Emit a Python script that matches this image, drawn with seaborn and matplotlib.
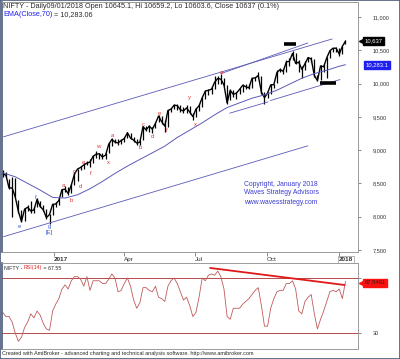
import pandas as pd
import numpy as np
import seaborn as sns
import matplotlib.pyplot as plt
import matplotlib.dates as mdates
import matplotlib.transforms as mtransforms

start, end = '2016-10-28', '2018-01-09'

close = [8638, 8626, 8433, 8432, 8297, 8079, 7929, 8114, 8142, 8086,
         8102, 8261, 8153, 8104, 7986, 8033, 8186, 8191, 8244, 8407,
         8413, 8349, 8476, 8641, 8716, 8741, 8778, 8805, 8821, 8907,
         8940, 8945, 8897, 8927, 9087, 9160, 9121, 9108, 9144, 9174,
         9261, 9182, 9150, 9106, 9119, 9352, 9304, 9360, 9315, 9401,
         9512, 9428, 9360, 9595, 9617, 9675, 9668, 9606, 9588, 9634,
         9574, 9504, 9615, 9665, 9786, 9886, 9899, 9915, 10020, 10077,
         10066, 9979, 9710, 9897, 9837, 9857, 9912, 9974, 9952, 9935,
         10079, 10085, 10121, 9872, 9789, 9859, 9980, 9984, 10167, 10210,
         10184, 10323, 10335, 10452, 10303, 10322, 10214, 10298, 10390, 10370,
         10121, 10044, 10265, 10252, 10389, 10493, 10531, 10531, 10443, 10559,
         10637]
high = [8700, 8670, 8560, 8600, 8580, 8250, 8100, 8130, 8170, 8230,
        8150, 8275, 8230, 8180, 8110, 8040, 8195, 8220, 8280, 8420,
        8460, 8440, 8490, 8670, 8720, 8760, 8800, 8830, 8860, 8920,
        8980, 8960, 8950, 8950, 9120, 9180, 9160, 9160, 9160, 9190,
        9275, 9260, 9200, 9170, 9150, 9370, 9370, 9380, 9340, 9430,
        9530, 9520, 9450, 9600, 9640, 9690, 9700, 9680, 9650, 9680,
        9660, 9560, 9640, 9700, 9800, 9900, 9920, 9950, 10110, 10110,
        10140, 10080, 9980, 9920, 9910, 9880, 9940, 10000, 9990, 10000,
        10090, 10100, 10180, 10120, 9880, 9880, 9990, 10000, 10200, 10240,
        10220, 10350, 10380, 10490, 10460, 10360, 10260, 10340, 10400, 10400,
        10370, 10130, 10280, 10300, 10400, 10500, 10540, 10550, 10540, 10570,
        10660]
low = [8590, 8600, 8420, 8002, 8290, 8050, 7916, 7940, 8090, 8060,
       8050, 8140, 8140, 8090, 7970, 7893, 8030, 8140, 8180, 8300,
       8370, 8330, 8350, 8480, 8540, 8700, 8720, 8770, 8740, 8800,
       8880, 8860, 8860, 8860, 8950, 9060, 9100, 9070, 9090, 9120,
       9180, 9170, 9120, 9080, 9080, 9150, 9280, 9270, 9260, 9330,
       9420, 9390, 9270, 9340, 9580, 9620, 9610, 9580, 9560, 9560,
       9550, 9450, 9500, 9590, 9650, 9770, 9830, 9840, 9920, 9990,
       10000, 9960, 9690, 9750, 9800, 9770, 9850, 9880, 9920, 9920,
       9940, 10040, 10090, 9850, 9690, 9780, 9840, 9930, 10010, 10170,
       10140, 10180, 10270, 10360, 10290, 10180, 10090, 10200, 10320, 10330,
       10100, 10033, 10060, 10180, 10080, 10380, 10480, 10480, 10420, 10450,
       10590]
# EMA(Close,70), one value every fourth sample plus the last bar
ema70 = [8660, 8600, 8500, 8400, 8290, 8280, 8330, 8420, 8530, 8650,
         8760, 8860, 8960, 9060, 9190, 9300, 9410, 9530, 9640, 9710,
         9780, 9830, 9900, 9990, 10080, 10150, 10200, 10260, 10283]
rsi14 = [45, 42, 42, 38, 30, 24, 27, 34, 38, 44,
         41, 46, 43, 37, 33, 32, 46, 51, 55, 62,
         65, 62, 68, 71, 71, 69, 64, 71, 61, 68,
         68, 68, 66, 66, 69, 73, 70, 60, 61, 66,
         70, 64, 54, 48, 52, 63, 63, 61, 60, 64,
         56, 55, 53, 64, 68, 70, 66, 60, 54, 56,
         50, 42, 45, 56, 70, 68, 72, 73, 72, 75,
         71, 62, 42, 40, 48, 48, 48, 51, 53, 55,
         58, 61, 63, 50, 35, 35, 48, 55, 60, 61,
         61, 66, 66, 68, 62, 46, 44, 53, 56, 58,
         44, 33, 40, 46, 53, 60, 61, 60, 62, 55,
         67.55]

# trend lines drawn on the chart: (date, value) pairs
channel_top = [('2016-10-29', 9200), ('2017-12-23', 10670)]
channel_bottom = [('2016-10-29', 7700), ('2017-11-22', 9065)]
top_fan = [('2017-08-03', 10150), ('2017-11-22', 10610)]
support_a = [('2017-08-14', 9555), ('2017-10-02', 9725)]
support_b = [('2017-10-05', 9745), ('2018-01-02', 10060)]
rsi_trend = [('2017-07-20', 77.3), ('2018-01-08', 64.9)]
markers = [[('2017-10-22', 10595), ('2017-11-07', 10595)],
           [('2017-12-08', 10010), ('2017-12-28', 10010)]]

blue_labels = [('2016-11-18', 7850, 'e'), ('2016-12-09', 8285, 'f'),
               ('2016-12-26', 7850, 'g'), ('2016-12-26', 7760, '[E]')]
red_labels = [('2017-01-14', 8465, 'a'), ('2017-01-23', 8240, 'b'),
              ('2017-01-27', 8675, 'c'), ('2017-02-04', 8450, 'd'),
              ('2017-02-08', 8810, 'e'), ('2017-02-18', 8645, 'f'),
              ('2017-02-27', 9050, 'w'), ('2017-03-12', 8810, 'x'),
              ('2017-03-17', 9215, 'a'), ('2017-04-22', 9035, 'b'),
              ('2017-04-25', 9380, 'c'), ('2017-05-07', 9200, 'd'),
              ('2017-05-16', 9545, 'e'), ('2017-05-26', 9290, 'f'),
              ('2017-06-23', 9785, 'y'), ('2017-07-01', 9380, 'x'),
              ('2017-08-03', 10165, 'a')]

dates = pd.date_range(start, end, periods=len(close))
df = pd.DataFrame({'date': dates, 'close': close, 'high': high, 'low': low, 'rsi': rsi14})
ema_df = pd.DataFrame({'date': list(dates[::4]) + [dates[-1]], 'ema': ema70})

sns.set_theme(style='white')
plt.rcParams['font.family'] = ['Liberation Sans', 'DejaVu Sans']

fig = plt.figure(figsize=(4, 3.59), dpi=100)
H = 359.0
ax = fig.add_axes([0.005, 1 - 252 / H, 0.89, 250 / H])
ax2 = fig.add_axes([0.005, 1 - 349 / H, 0.89, 86 / H])

line_blue = '#5a5ab8'

# price bars
ax.vlines(df['date'], df['low'], df['high'], color='black', lw=0.9)
sns.lineplot(data=df, x='date', y='close', ax=ax, color='black', lw=1.0)
sns.lineplot(data=ema_df, x='date', y='ema', ax=ax, color=line_blue, lw=0.7)

for seg in [channel_top, channel_bottom, top_fan, support_a, support_b]:
    xs = pd.to_datetime([p[0] for p in seg])
    ax.plot(xs, [p[1] for p in seg], color=line_blue, lw=0.6)
for seg in markers:
    xs = pd.to_datetime([p[0] for p in seg])
    ax.plot(xs, [p[1] for p in seg], color='black', lw=2.6, solid_capstyle='butt')

for d, v, s in blue_labels:
    ax.text(pd.Timestamp(d), v, s, color='#3a5ad0', fontsize=4.3, ha='center', va='center')
for d, v, s in red_labels:
    ax.text(pd.Timestamp(d), v, s, color='#e03535', fontsize=4.3, ha='center', va='center')

ax.set_xlim(pd.Timestamp('2016-10-27'), pd.Timestamp('2018-01-25'))
ax.set_ylim(7470, 11225)
ax.set_xlabel('')
ax.set_ylabel('')
ax.yaxis.tick_right()
ax.set_yticks(range(7500, 11001, 500))
ax.set_yticklabels([f'{v:,}' for v in range(7500, 11001, 500)])
ax.tick_params(axis='y', which='both', right=True, length=2.5, width=0.6, color='#777777',
               labelsize=4.1, labelcolor='#333333', pad=8)
month_ticks = pd.to_datetime(['2017-01-01', '2017-04-01', '2017-07-01', '2017-10-01', '2018-01-01'])
ax.set_xticks(month_ticks)
ax.set_xticklabels(['2017', 'Apr', 'Jul', 'Oct', '2018'])
for lbl in ax.get_xticklabels():
    lbl.set_horizontalalignment('left')
    if lbl.get_text() in ('2017', '2018'):
        lbl.set_fontweight('bold')
    if lbl.get_text() == '2018':
        lbl.set_bbox(dict(boxstyle='square,pad=0.12', fc='white', ec='#9a9a9a', lw=0.5))
ax.tick_params(axis='x', bottom=True, length=3, width=0.6, color='#777777',
               labelsize=4.6, labelcolor='#333333', pad=0.5)
for sp in ax.spines.values():
    sp.set_color('#9a9a9a')
    sp.set_linewidth(0.7)
ax.spines['left'].set_color('#4a5a7a')
ax.spines['left'].set_linewidth(1.2)

# right-side value boxes
tr = mtransforms.blended_transform_factory(ax.transAxes, ax.transData)
ax.text(1.018, 10637, '10,637', transform=tr, color='white', fontsize=4.2, va='center',
        ha='left', bbox=dict(boxstyle='square,pad=0.25', fc='black', ec='black'))
ax.plot([1.01], [10637], marker='<', color='black', ms=4, transform=tr, clip_on=False)
ax.text(1.02, 10283, '10,283.1', transform=tr, color='white', fontsize=4.2, va='center',
        ha='left', bbox=dict(boxstyle='square,pad=0.25', fc='#2020ee', ec='#2020ee'))

# RSI pane
ax2.axhline(70, color='#b84848', lw=0.7)
ax2.axhline(30, color='#b84848', lw=0.7)
sns.lineplot(data=df, x='date', y='rsi', ax=ax2, color='#c05a5a', lw=0.6)
xs = pd.to_datetime([p[0] for p in rsi_trend])
ax2.plot(xs, [p[1] for p in rsi_trend], color='#e01818', lw=1.3)
ax2.set_xlim(ax.get_xlim())
ax2.set_ylim(18.4, 80.9)
ax2.set_xlabel('')
ax2.set_ylabel('')
ax2.set_xticks([])
ax2.yaxis.tick_right()
ax2.set_yticks([30, 70])
ax2.set_yticklabels(['30', ''])
ax2.tick_params(axis='y', right=True, length=2.5, width=0.6, color='#777777',
                labelsize=4.1, labelcolor='#333333', pad=8)
for sp in ax2.spines.values():
    sp.set_color('#9a9a9a')
    sp.set_linewidth(0.7)
ax2.spines['left'].set_color('#4a5a7a')
ax2.spines['left'].set_linewidth(1.2)
tr2 = mtransforms.blended_transform_factory(ax2.transAxes, ax2.transData)
ax2.text(1.018, 66.5, '67.5491', transform=tr2, color='#202020', fontsize=4.2, va='center',
         ha='left', bbox=dict(boxstyle='square,pad=0.25', fc='#ff1010', ec='#ff1010'))
ax2.plot([1.01], [66.5], marker='<', color='#ff1010', ms=4, transform=tr2, clip_on=False)

# header texts
fig.text(3 / 400, 1 - 6 / H, 'NIFTY - Daily09/01/2018 Open 10645.1, Hi 10659.2, Lo 10603.6, Close 10637 (0.1%)',
         fontsize=5.2, color='#2a2a2a', va='center')
t2 = fig.text(3 / 400, 1 - 15 / H, 'EMA(Close,70)', fontsize=5.2, color='#2020ee', va='center')
ax.annotate(' = 10,283.06', xy=(1, 0), xycoords=t2, va='bottom', ha='left',
            fontsize=5.2, color='#2a2a2a', annotation_clip=False)
r1 = fig.text(4 / 400, 1 - 268 / H, 'NIFTY - ', fontsize=3.8, color='#2a2a2a', va='center')
r2 = ax2.annotate('RSI(14)', xy=(1, 0), xycoords=r1, va='bottom', ha='left',
                  fontsize=3.8, color='#e02020', annotation_clip=False)
ax2.annotate(' = 67.55', xy=(1, 0), xycoords=r2, va='bottom', ha='left',
             fontsize=3.8, color='#2a2a2a', annotation_clip=False)

# copyright and footer
for i, s in enumerate(['Copyright, January 2018', 'Waves Strategy Advisors', 'www.wavesstrategy.com']):
    fig.text(244 / 400, 1 - (184 + 9 * i) / H, s, fontsize=4.9, color='#3c3cd0', va='center')
fig.text(2 / 400, 1 - 354 / H,
         'Created with AmiBroker - advanced charting and technical analysis software. http://www.amibroker.com',
         fontsize=4.0, color='#2a2a2a', va='center')

fig.patches.append(plt.Rectangle((0, 0), 1, 1, transform=fig.transFigure, fill=False,
                                 ec='#4a5a7a', lw=1.2))
fig.savefig('out.png', dpi=100)
